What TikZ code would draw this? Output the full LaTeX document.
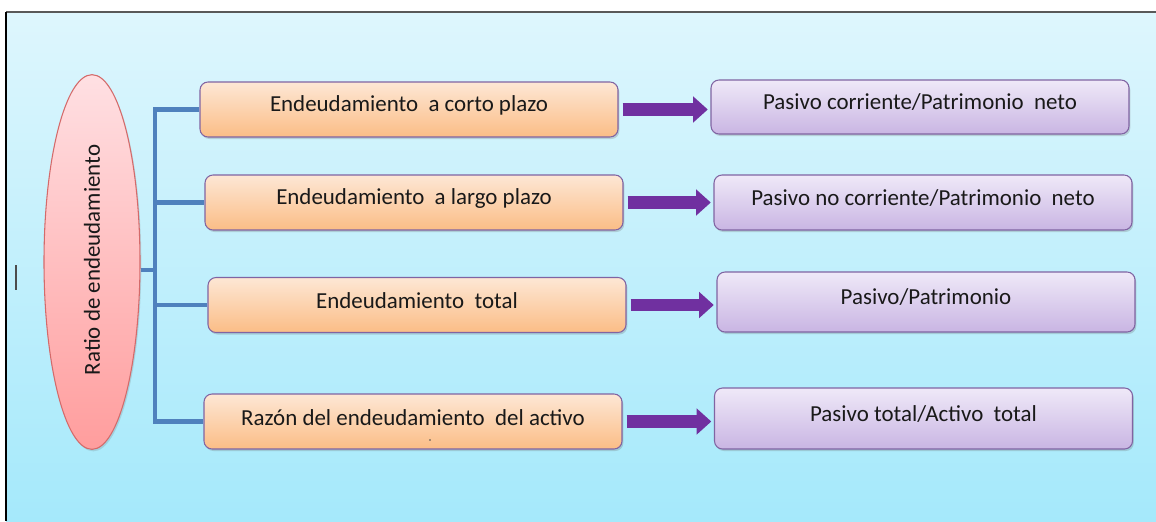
\documentclass[tikz,border=0pt]{standalone}
\usepackage{fontspec}
\setmainfont{Carlito}
\usetikzlibrary{shapes.geometric,arrows.meta,shadows}
\definecolor{bgtop}{HTML}{DEF6FD}
\definecolor{bgbot}{HTML}{A5E9FB}
\definecolor{boxline}{HTML}{8064A2}
\definecolor{orangetop}{HTML}{FDE7D5}
\definecolor{orangebot}{HTML}{FBBD86}
\definecolor{lilactop}{HTML}{EFE9F8}
\definecolor{lilacbot}{HTML}{C9B5E3}
\definecolor{pinktop}{HTML}{FFE0E3}
\definecolor{pinkbot}{HTML}{FF9D9D}
\definecolor{pinkline}{HTML}{D46A6A}
\definecolor{spineblue}{HTML}{4F81BD}
\definecolor{arrowpurple}{HTML}{7030A0}
\tikzset{basic/.style={draw=boxline,line width=0.8pt,rounded corners=6pt,
                       minimum width=313.5pt,
                       drop shadow={shadow xshift=1pt,shadow yshift=-1.5pt,
                                    opacity=0.25,fill=black!60}}}
\tikzset{kind/.style={basic,top color=orangetop,bottom color=orangebot,
                      minimum height=41.25pt}}
\tikzset{formula/.style={basic,top color=lilactop,bottom color=lilacbot}}
\tikzset{ratio/.style={ellipse,draw=pinkline,line width=0.8pt,
                       top color=pinktop,bottom color=pinkbot,
                       minimum width=72pt,minimum height=281pt,
                       drop shadow={shadow xshift=1pt,shadow yshift=-1.5pt,
                                    opacity=0.2,fill=black!60}}}
\tikzset{lbl/.style={text=black!90,font=\fontsize{17.2}{20}\selectfont,inner sep=0pt}}
\tikzset{bracket/.style={draw=spineblue,line width=3.4pt}}
\tikzset{bigarrow/.style={draw=arrowpurple,line width=9.5pt,
                          -{Triangle[length=11pt,width=19pt]},
                          shorten <=3pt,shorten >=2pt}}

\begin{document}
\begin{tikzpicture}[x=0.75pt,y=-0.75pt]
    \useasboundingbox (0,0) rectangle (1156,521);
    % Background panel and its frame
    \shade[top color=bgtop,bottom color=bgbot] (6,12) rectangle (1156,521);
    \draw[black!65,line width=1pt] (1156,12) -- (6,12);
    \draw[black,line width=1.2pt] (6,12) -- (6,521);
    % Cursor mark
    \draw[black!70,line width=0.8pt] (16,265) -- (16,290);
    % Draw the ratio ellipse
    \node[ratio] (ratio) at (92,262) {};
    \node[lbl,rotate=90] (ratiot) at (92,260) {Ratio de endeudamiento};
    % Spine of the bracket
    \coordinate (spine) at (155,270);
    % Draw the kinds of debt
    \foreach \txt/\x/\y [count=\i] in {%
        {Endeudamiento\ \ a corto plazo}/409/109.5,
        {Endeudamiento\ \ a largo plazo}/414/202.5,
        {Endeudamiento\ \ total}/417/305,
        {Razón del endeudamiento\ \ del activo}/413/421.5}{%
          \node[kind] (k\i) at (\x,\y) {};
          \node[lbl] (kt\i) at ([yshift=3.2pt]k\i.center) {\txt};
        }
    \fill[black!70] (430,440) circle (0.7pt);
    % Draw the formulas
    \foreach \txt/\x/\y/\h [count=\i] in {%
        {Pasivo corriente/Patrimonio\ \ neto}/920/107/40.5pt,
        {Pasivo no corriente/Patrimonio\ \ neto}/923/202.5/41.25pt,
        {Pasivo/Patrimonio}/926/302/45pt,
        {Pasivo total/Activo\ \ total}/923.5/418.5/45.75pt}{%
          \node[formula,minimum height=\h] (p\i) at (\x,\y) {};
          \node[lbl] (pt\i) at ([yshift=3.4pt]p\i.center) {\txt};
        }
    % Bracket from the ellipse to the kinds
    \draw[bracket] (k1.west) -- (k1.west -| spine) -- (k4.west -| spine) -- (k4.west);
    \foreach \i in {2,3}{%
          \draw[bracket] (k\i.west -| spine) -- (k\i.west);
        }
    \draw[bracket] (ratio.east |- spine) -- (spine);
    % Arrows from kinds to formulas
    \foreach \i in {1,...,4}{%
          \draw[bigarrow] (k\i.east) -- (k\i.east -| p\i.west);
        }
\end{tikzpicture}
\end{document}
